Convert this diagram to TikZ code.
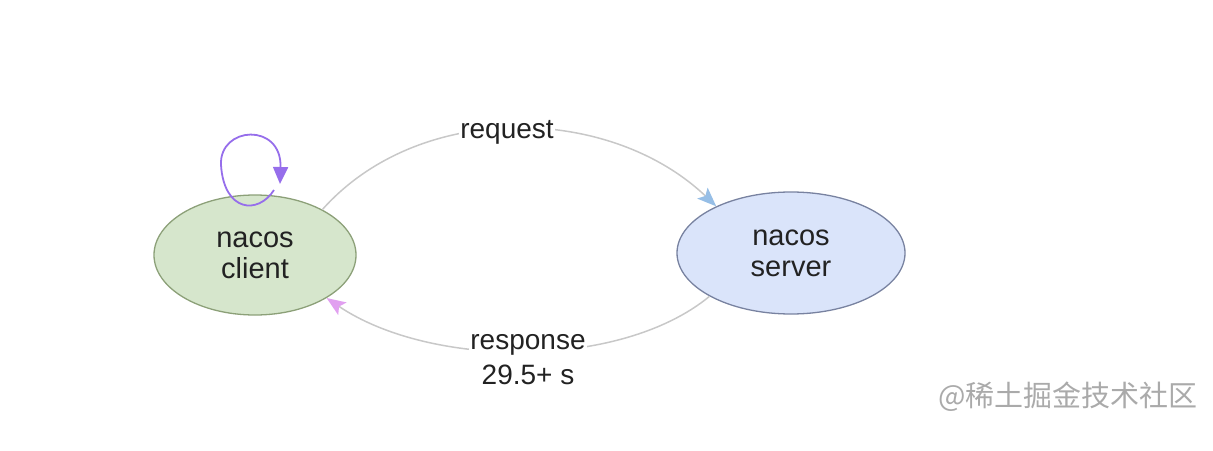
\documentclass[tikz,border=0pt]{standalone}
\usepackage{fontspec}
\setmainfont{Liberation Sans}
\newfontfamily\cjk{Noto Sans CJK SC}
\usetikzlibrary{shapes.geometric,arrows.meta}
\definecolor{clientfill}{RGB}{214,230,204}
\definecolor{clientdraw}{RGB}{140,160,120}
\definecolor{serverfill}{RGB}{218,228,250}
\definecolor{serverdraw}{RGB}{120,130,160}
\definecolor{linegray}{RGB}{200,200,200}
\definecolor{reqtip}{RGB}{150,190,230}
\definecolor{resptip}{RGB}{225,160,240}
\definecolor{loopcol}{RGB}{150,110,235}
\definecolor{txt}{RGB}{34,34,34}
\definecolor{wm}{RGB}{170,170,170}
\tikzset{
  stateellipse/.style={ellipse, line width=1.3pt, inner sep=0pt, align=center, text=txt,
    font=\fontsize{29}{31}\selectfont},
  conn/.style={line width=1.5pt, draw=linegray},
  lbl/.style={fill=white, inner sep=1pt, align=center, text=txt, font=\fontsize{28}{35}\selectfont},
}
\begin{document}
\begin{tikzpicture}[x=1pt,y=-1pt]
\useasboundingbox (0,0) rectangle (1213,450);
\node[stateellipse, fill=clientfill, draw=clientdraw, minimum width=202pt, minimum height=120pt] (client) at (255,255) {nacos\\client};
\node[stateellipse, fill=serverfill, draw=serverdraw, minimum width=228pt, minimum height=122pt] (server) at (791,253) {nacos\\server};
\coordinate (reqS) at (client.34);
\coordinate (reqE) at (server.148);
\coordinate (respS) at (server.-152);
\coordinate (respE) at (client.-31);
\draw[conn, -{Stealth[length=19pt,width=15pt,inset=4pt,color=reqtip]}] (reqS) .. controls (420,100) and (610,105) .. (reqE);
\node[lbl] (reqlbl) at (507,132) {request};
\draw[conn, -{Stealth[length=19pt,width=15pt,inset=4pt,color=resptip]}] (respS) .. controls (620,370) and (430,368) .. (respE);
\node[lbl] (resplbl) at (528,360) {response\\29.5+ s};
\coordinate (loopS) at (274,190);
\coordinate (loopE) at (280,184);
\draw[line width=1.8pt, draw=loopcol, -{Triangle[length=17pt,width=15pt]}] (loopS) .. controls (258,215) and (224,212) .. (221,165) .. controls (219,126) and (282,122) .. (loopE);
\node[text=wm, font=\cjk\fontsize{29}{30}\selectfont, anchor=center] (wmark) at (1068,397) {@稀土掘金技术社区};
\end{tikzpicture}
\end{document}
